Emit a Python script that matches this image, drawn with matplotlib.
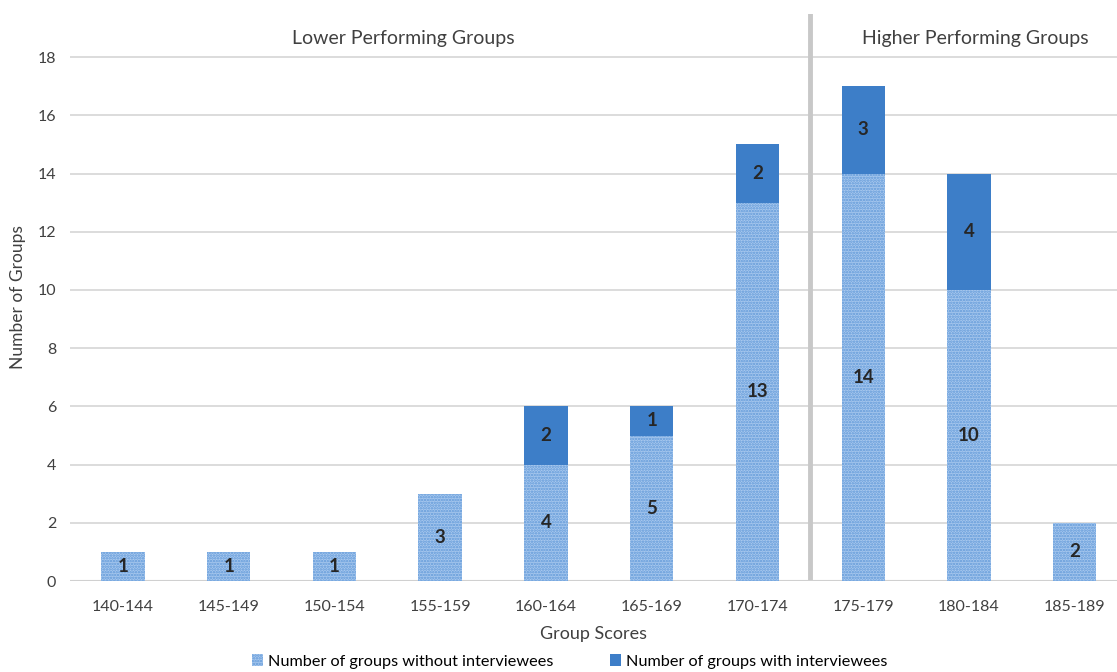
import matplotlib.pyplot as plt
import numpy as np

plt.rcParams['font.family'] = ['Lato', 'DejaVu Sans']
plt.rcParams['hatch.linewidth'] = 1.2

# Data
categories = ["140-144", "145-149", "150-154", "155-159", "160-164",
              "165-169", "170-174", "175-179", "180-184", "185-189"]
without_int = [1, 1, 1, 3, 4, 5, 13, 14, 10, 2]
with_int = [0, 0, 0, 0, 2, 1, 2, 3, 4, 0]

x = np.arange(len(categories))
width = 0.41

fig = plt.figure(figsize=(11.17, 6.72), dpi=100)
ax = fig.add_axes([0.0627, 0.1354, 0.9373, 0.8436])

light = "#a8c8ee"
dark = "#3d7ec8"

b1 = ax.bar(x, without_int, width, color=light, edgecolor="#5f98d8",
            hatch="......", linewidth=0, zorder=3,
            label="Number of groups without interviewees")
b2 = ax.bar(x, with_int, width, bottom=without_int, color=dark,
            linewidth=0, zorder=3, label="Number of groups with interviewees")

# Segment labels
for i in range(len(categories)):
    ax.text(x[i], without_int[i] / 2, str(without_int[i]), ha="center",
            va="center", fontsize=13.5, fontweight="bold", color="#262626", zorder=4)
    if with_int[i] > 0:
        ax.text(x[i], without_int[i] + with_int[i] / 2, str(with_int[i]),
                ha="center", va="center", fontsize=13.5, fontweight="bold",
                color="#262626", zorder=4)

# Divider between groups
ax.axvline(6.5, color="#c8c8c8", linewidth=3.5, zorder=2)

ax.text(2.65, 18.65, "Lower Performing Groups", ha="center", va="center",
        fontsize=14, color="#404040")
ax.text(8.06, 18.65, "Higher Performing Groups", ha="center", va="center",
        fontsize=14, color="#404040")

ax.set_xlim(-0.5, 9.4)
ax.set_ylim(0, 19.48)
ax.set_yticks(range(0, 19, 2))
ax.set_xticks(x)
ax.set_xticklabels(categories)
ax.tick_params(axis="both", length=0, labelsize=11.5, colors="#404040")
ax.tick_params(axis="x", pad=14)
ax.tick_params(axis="y", pad=10)
ax.yaxis.grid(True, color="#d9d9d9", linewidth=1.3, zorder=0)
ax.set_axisbelow(True)
for s in ax.spines.values():
    s.set_visible(False)
ax.axhline(0, color="#d0d0d0", linewidth=1.5, zorder=2)

ax.set_xlabel("Group Scores", fontsize=13, color="#404040", labelpad=8)
ax.set_ylabel("Number of Groups", fontsize=12.5, color="#404040", labelpad=8)

fig.legend(handles=[b1, b2], loc="lower center", ncol=2, frameon=False,
           bbox_to_anchor=(0.51, -0.012), fontsize=11.7, handlelength=0.7,
           handleheight=0.7, handletextpad=0.3, columnspacing=3.5,
           borderpad=0.2)

fig.savefig("out.png", dpi=100)
